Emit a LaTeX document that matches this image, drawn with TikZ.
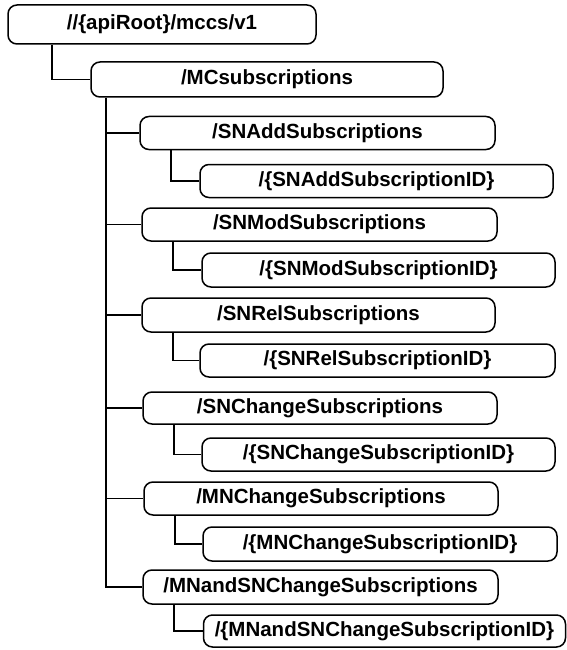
\documentclass[tikz,border=0pt]{standalone}
\usepackage{fontspec}
\setmainfont{Liberation Sans}
\begin{document}
\begin{tikzpicture}[x=1pt,y=-1pt,
  res/.style={draw=black, line width=1.5pt, rounded corners=9pt, fill=white,
    inner sep=0pt, minimum height=33pt,
    font=\fontsize{20.5}{24}\selectfont\bfseries},
  link/.style={draw=black, line width=1.6pt}]
\useasboundingbox (0,0) rectangle (567,650);

% resource boxes
\node[res, minimum width=308pt, minimum height=39pt] (root) at (162,24.5) {//\{apiRoot\}/mccs/v1};
\node[res, minimum width=352pt, minimum height=35pt] (mc) at (267,79.5) {/MCsubscriptions};

\node[res, minimum width=355pt] (snadd)   at (317.5,133)   {/SNAddSubscriptions};
\node[res, minimum width=353pt] (snaddid) at (376.5,181)   {/\{SNAddSubscriptionID\}};

\node[res, minimum width=355pt] (snmod)   at (319.5,224.5) {/SNModSubscriptions};
\node[res, minimum width=353pt, minimum height=34pt] (snmodid) at (378.5,270) {/\{SNModSubscriptionID\}};

\node[res, minimum width=353pt, minimum height=34pt] (snrel) at (318.5,315) {/SNRelSubscriptions};
\node[res, minimum width=355pt] (snrelid) at (377.5,360.5) {/\{SNRelSubscriptionID\}};

\node[res, minimum width=354pt, minimum height=32pt] (snchg) at (320,408) {/SNChangeSubscriptions};
\node[res, minimum width=353pt] (snchgid) at (378.5,454.5) {/\{SNChangeSubscriptionID\}};

\node[res, minimum width=354pt] (mnchg)   at (321,498.5) {/MNChangeSubscriptions};
\node[res, minimum width=354pt, minimum height=34pt] (mnchgid) at (380,544) {/\{MNChangeSubscriptionID\}};

\node[res, minimum width=355pt, minimum height=34pt] (mnsn) at (320.5,587) {/MNandSNChangeSubscriptions};
\node[res, minimum width=362pt, minimum height=32pt] (mnsnid) at (384.5,631) {/\{MNandSNChangeSubscriptionID\}};

% root to collection
\draw[link] ([xshift=45pt]root.south west) |- (mc.west);

% trunk under /MCsubscriptions
\coordinate (trunk) at ([xshift=16pt]mc.south west);
\draw[link] (trunk) |- (mnsn.west);
\foreach \n in {snadd,snmod,snrel,snchg,mnchg}
  \draw[link] (trunk |- \n.west) -- (\n.west);

% collection to item
\foreach \c/\i in {snadd/snaddid,snmod/snmodid,snrel/snrelid,snchg/snchgid,mnchg/mnchgid,mnsn/mnsnid}
  \draw[link] ([xshift=32pt]\c.south west) |- (\i.west);
\end{tikzpicture}
\end{document}
